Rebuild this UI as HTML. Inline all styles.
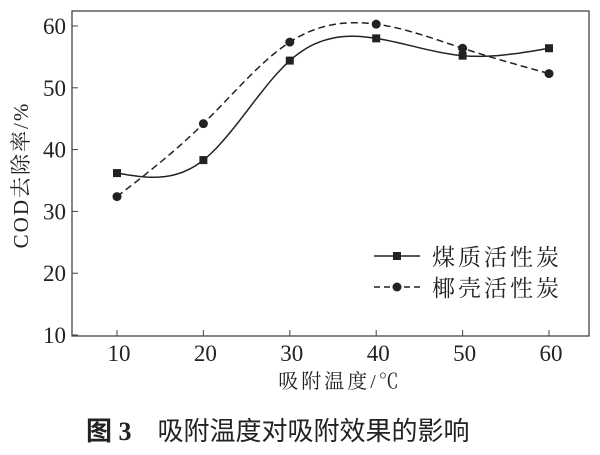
<!DOCTYPE html>
<html><head><meta charset="utf-8"><style>
body{margin:0;background:#fff;}
svg text{font-family:"Liberation Serif","Noto Serif CJK SC",serif;fill:#222;}
</style></head><body>
<svg width="600" height="450" xmlns="http://www.w3.org/2000/svg">
<rect x="72" y="11" width="517" height="325" fill="#fff" stroke="#444" stroke-width="1.3"/>
<g id="ticks"></g>
<g id="series"></g>
<text x="21" y="175" font-size="21" text-anchor="middle" letter-spacing="2" transform="rotate(-90 21 175)" dy="7">COD去除率/%</text>
<text x="340" y="388" font-size="20" text-anchor="middle" letter-spacing="3">吸附温度/℃</text>
<g>
<line x1="374" y1="256" x2="420" y2="256" stroke="#222" stroke-width="1.5"/>
<rect x="393" y="252" width="8" height="8" fill="#222"/>
<text x="432" y="265" font-size="23" letter-spacing="3">煤质活性炭</text>
<line x1="374" y1="287" x2="420" y2="287" stroke="#222" stroke-width="1.5" stroke-dasharray="6,4"/>
<circle cx="397" cy="287" r="4.5" fill="#222"/>
<text x="432" y="296" font-size="23" letter-spacing="3">椰壳活性炭</text>
</g>
<text x="86" y="440" font-size="26" style="font-family:'Liberation Sans','Noto Sans CJK SC',sans-serif"><tspan font-weight="bold" style="font-family:'Liberation Serif','Noto Sans CJK SC',serif">图 3</tspan><tspan dx="26">吸附温度对吸附效果的影响</tspan></text>
</svg>
<script>
const categories=[10,20,30,40,50,60];
const coalValues=[36.2,38.3,54.4,58.0,55.2,56.4];
const coconutValues=[32.4,44.2,57.4,60.3,56.4,52.3];
const yTicks=[10,20,30,40,50,60];
const NS="http://www.w3.org/2000/svg";
const xs=v=>117+(v-10)*(549-117)/50;
const ys=v=>335-(v-10)*(335-26)/50;
function mk(tag,attrs,parent){const e=document.createElementNS(NS,tag);for(const k in attrs)e.setAttribute(k,attrs[k]);parent.appendChild(e);return e;}
const tg=document.getElementById('ticks');
yTicks.forEach(t=>{
 mk('line',{x1:72,x2:78,y1:ys(t),y2:ys(t),stroke:'#444'},tg);
 const tx=mk('text',{x:66,y:ys(t)+8,'font-size':23,'text-anchor':'end'},tg);tx.textContent=t;
 
 
});
categories.forEach(c=>{
 mk('line',{x1:xs(c),x2:xs(c),y1:336,y2:330,stroke:'#444'},tg);
 const tx=mk('text',{x:xs(c)+2,y:361,'font-size':23,'text-anchor':'middle'},tg);tx.textContent=c;
 
 
});
function spline(xv,yv){
 const n=xv.length,h=[],a=[],l=[1],mu=[0],z=[0],c=new Array(n).fill(0),b=[],d=[];
 for(let i=0;i<n-1;i++)h.push(xv[i+1]-xv[i]);
 for(let i=1;i<n-1;i++)a[i]=3/h[i]*(yv[i+1]-yv[i])-3/h[i-1]*(yv[i]-yv[i-1]);
 for(let i=1;i<n-1;i++){l[i]=2*(xv[i+1]-xv[i-1])-h[i-1]*mu[i-1];mu[i]=h[i]/l[i];z[i]=(a[i]-h[i-1]*z[i-1])/l[i];}
 for(let j=n-2;j>=0;j--){c[j]=z[j]-mu[j]*c[j+1];b[j]=(yv[j+1]-yv[j])/h[j]-h[j]*(c[j+1]+2*c[j])/3;d[j]=(c[j+1]-c[j])/(3*h[j]);}
 let p='';
 for(let j=0;j<n-1;j++)for(let s=0;s<=20;s++){const t=h[j]*s/20;const y=yv[j]+b[j]*t+c[j]*t*t+d[j]*t*t*t;p+=(p?'L':'M')+xs(xv[j]+t).toFixed(1)+','+ys(y).toFixed(1);}
 return p;
}
const sg=document.getElementById('series');
const p1=mk('path',{d:spline(categories,coalValues),fill:'none',stroke:'#222','stroke-width':1.5},sg);


const p2=mk('path',{d:spline(categories,coconutValues),fill:'none',stroke:'#222','stroke-width':1.5,'stroke-dasharray':'7,4'},sg);


categories.forEach((c,i)=>{
 const r=mk('rect',{x:xs(c)-4,y:ys(coalValues[i])-4,width:8,height:8,fill:'#222'},sg);
 
 
 const ci=mk('circle',{cx:xs(c),cy:ys(coconutValues[i]),r:4.5,fill:'#222'},sg);
 
 
});
</script>
</body></html>
